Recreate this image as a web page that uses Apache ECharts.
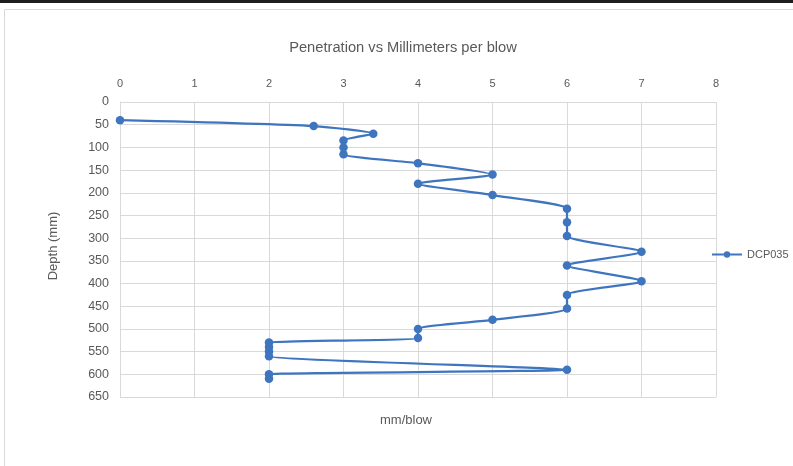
<!DOCTYPE html>
<html>
<head>
<meta charset="utf-8">
<script src="https://cdn.jsdelivr.net/npm/echarts@6/dist/echarts.min.js"></script>
<style>
  html, body { margin: 0; padding: 0; background: #fff; }
  #chart { width: 793px; height: 466px; }
</style>
</head>
<body>
<div id="chart"></div>
<script>
// DCP035 test: millimetres per blow against depth
const seriesName = 'DCP035';
const mmPerBlow = [0, 2.6, 3.4, 3, 3, 3, 4, 5, 4, 5, 6, 6, 6, 7, 6, 7, 6, 6, 5, 4, 4, 2, 2, 2, 2, 6, 2, 2];
const depthMm   = [40, 53, 70, 85, 100, 115, 135, 160, 180, 205, 235, 265, 295, 330, 360, 395, 425, 455, 480, 500, 520, 530, 540, 550, 560, 590, 600, 610];
const xTicks = { min: 0, max: 8, step: 1 };
const yTicks = { min: 0, max: 650, step: 50 };

const points = mmPerBlow.map((v, i) => [v, depthMm[i]]);
const font = 'Liberation Sans, Arial, sans-serif';
const grey = '#595959';
const gridColor = '#d9d9d9';
const blue = '#3f75bf';

const chart = echarts.init(document.getElementById('chart'), null, { renderer: 'canvas' });
chart.setOption({
  animation: false,
  backgroundColor: '#fff',
  graphic: [
    // window strip and chart frame
    { type: 'rect', shape: { x: 0, y: 0, width: 793, height: 3 }, style: { fill: '#1f1f1f' }, z: 10 },
    { type: 'rect', shape: { x: 4.5, y: 9.5, width: 800, height: 470 }, style: { fill: 'none', stroke: '#d9d9d9', lineWidth: 1 }, z: 10 },
    // axis titles
    { type: 'text', x: 406, y: 420, style: { text: 'mm/blow', align: 'center', verticalAlign: 'middle', font: '13px ' + font, fill: grey }, z: 10 },
    { type: 'text', x: 53, y: 246, rotation: Math.PI / 2, style: { text: 'Depth (mm)', align: 'center', verticalAlign: 'middle', font: '13px ' + font, fill: grey }, z: 10 }
  ],
  title: {
    text: 'Penetration vs Millimeters per blow',
    left: 398, top: 35, textAlign: 'center',
    textStyle: { fontFamily: font, fontSize: 14.7, fontWeight: 'normal', color: grey }
  },
  legend: {
    data: [seriesName],
    left: 706, top: 244,
    itemWidth: 30, itemHeight: 8,
    textStyle: { fontFamily: font, fontSize: 11, color: grey }
  },
  grid: { left: 120, top: 102, width: 596, height: 295, containLabel: false },
  xAxis: {
    type: 'value', position: 'top',
    min: xTicks.min, max: xTicks.max, interval: xTicks.step,
    axisLine: { show: false },
    axisTick: { show: false },
    axisLabel: { fontFamily: font, fontSize: 11, color: grey, margin: 13 },
    splitLine: { show: true, lineStyle: { color: gridColor, width: 1 } }
  },
  yAxis: {
    type: 'value', inverse: true,
    min: yTicks.min, max: yTicks.max, interval: yTicks.step,
    axisLine: { show: true, lineStyle: { color: gridColor, width: 1 } },
    axisTick: { show: false },
    axisLabel: { fontFamily: font, fontSize: 12.5, color: grey, margin: 11 },
    splitLine: { show: true, lineStyle: { color: gridColor, width: 1 } }
  },
  series: [{
    name: seriesName,
    type: 'line',
    data: points,
    smooth: 0.2,
    symbol: 'circle',
    symbolSize: 8.5,
    lineStyle: { color: blue, width: 2.25 },
    itemStyle: { color: blue },
    z: 5
  }]
});
</script>
</body>
</html>
